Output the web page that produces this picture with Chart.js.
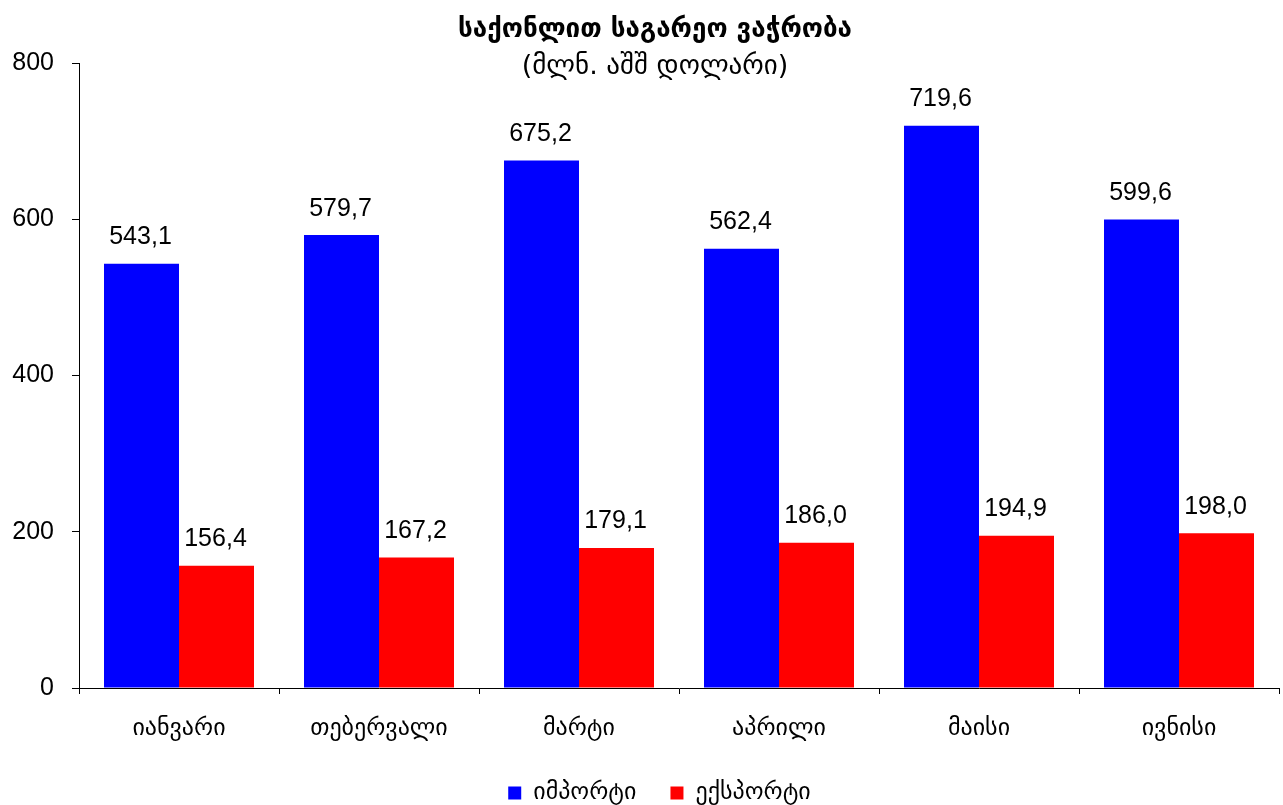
<!DOCTYPE html>
<html lang="ka">
<head>
    <meta charset="UTF-8">
    <title>საქონლით საგარეო ვაჭრობა</title>
    <script src="https://cdn.jsdelivr.net/npm/chart.js@4.4.0/dist/chart.umd.min.js"></script>
    <style>
        body { margin: 0; background: #fff; }
        #wrap { width: 1283px; height: 805px; position: relative; }
    </style>
</head>
<body>
    <div id="wrap"><canvas id="tradeChart"></canvas></div>
    <script>
        // months and values (mln USD)
        const months = ['იანვარი', 'თებერვალი', 'მარტი', 'აპრილი', 'მაისი', 'ივნისი'];
        const importValues = [543.1, 579.7, 675.2, 562.4, 719.6, 599.6];
        const exportValues = [156.4, 167.2, 179.1, 186.0, 194.9, 198.0];
        const yTicks = [0, 200, 400, 600, 800];

        const titleText = 'საქონლით საგარეო ვაჭრობა';
        const subtitleText = '(მლნ. აშშ დოლარი)';

        const geoFont = '"DejaVu Sans", sans-serif';
        const numFont = '"Liberation Sans", Arial, sans-serif';

        // title + subtitle drawn over the top of the plot
        const titlePlugin = {
            id: 'titles',
            afterDraw(chart) {
                const ctx = chart.ctx;
                const cx = (chart.chartArea.left + chart.chartArea.right) / 2 - 24;
                ctx.save();
                ctx.fillStyle = '#000';
                ctx.textAlign = 'center';
                ctx.textBaseline = 'middle';
                ctx.font = 'bold 26px ' + geoFont;
                ctx.fillText(titleText, cx, 30);
                ctx.font = '27px ' + geoFont;
                ctx.fillText(subtitleText, cx, 67);
                ctx.restore();
            }
        };

        // value labels above bars, comma decimal
        const valueLabels = {
            id: 'valueLabels',
            afterDatasetsDraw(chart) {
                const ctx = chart.ctx;
                ctx.save();
                ctx.fillStyle = '#000';
                ctx.font = '25px ' + numFont;
                ctx.textAlign = 'center';
                ctx.textBaseline = 'bottom';
                chart.data.datasets.forEach((ds, i) => {
                    chart.getDatasetMeta(i).data.forEach((bar, j) => {
                        const txt = ds.data[j].toFixed(1).replace('.', ',');
                        ctx.fillText(txt, bar.x - 1, bar.y - 14);
                    });
                });
                ctx.restore();
            }
        };

        // legend padding is large (for item spacing), so pull its top up;
        // bottom stays at the canvas edge so nothing gets clipped
        const legendShift = {
            id: 'legendShift',
            afterLayout(chart) {
                const lg = chart.legend;
                lg.top -= 14;
                lg.left += 20; lg.right += 20;
            }
        };

        new Chart(document.getElementById('tradeChart'), {
            type: 'bar',
            data: {
                labels: months,
                datasets: [
                    { label: 'იმპორტი', data: importValues, backgroundColor: '#0000ff' },
                    { label: 'ექსპორტი', data: exportValues, backgroundColor: '#ff0000' }
                ]
            },
            options: {
                responsive: true,
                maintainAspectRatio: false,
                animation: false,
                layout: { padding: { top: 63, right: 4, left: 0, bottom: 0 } },
                datasets: { bar: { categoryPercentage: 0.75, barPercentage: 1.0 } },
                scales: {
                    x: {
                        afterFit(scale) { scale.height = 73; },
                        border: { color: '#000', width: 1 },
                        grid: { drawOnChartArea: false, tickLength: 6, color: '#000', offset: true },
                        ticks: { color: '#000', padding: 20, font: { family: geoFont, size: 24 } }
                    },
                    y: {
                        min: 0,
                        max: 800,
                        afterFit(scale) { scale.width = 79; },
                        afterBuildTicks(scale) { scale.ticks = yTicks.map(v => ({ value: v })); },
                        border: { color: '#000', width: 1 },
                        grid: { drawOnChartArea: false, tickLength: 7, color: '#000' },
                        ticks: { color: '#000', padding: 18, font: { family: numFont, size: 25 } }
                    }
                },
                plugins: {
                    tooltip: { enabled: false },
                    legend: {
                        position: 'bottom',
                        maxHeight: 44,
                        labels: {
                            color: '#000',
                            boxWidth: 13,
                            boxHeight: 13,
                            padding: 34,
                            font: { family: geoFont, size: 24 }
                        }
                    }
                }
            },
            plugins: [titlePlugin, valueLabels, legendShift]
        });
    </script>
</body>
</html>
